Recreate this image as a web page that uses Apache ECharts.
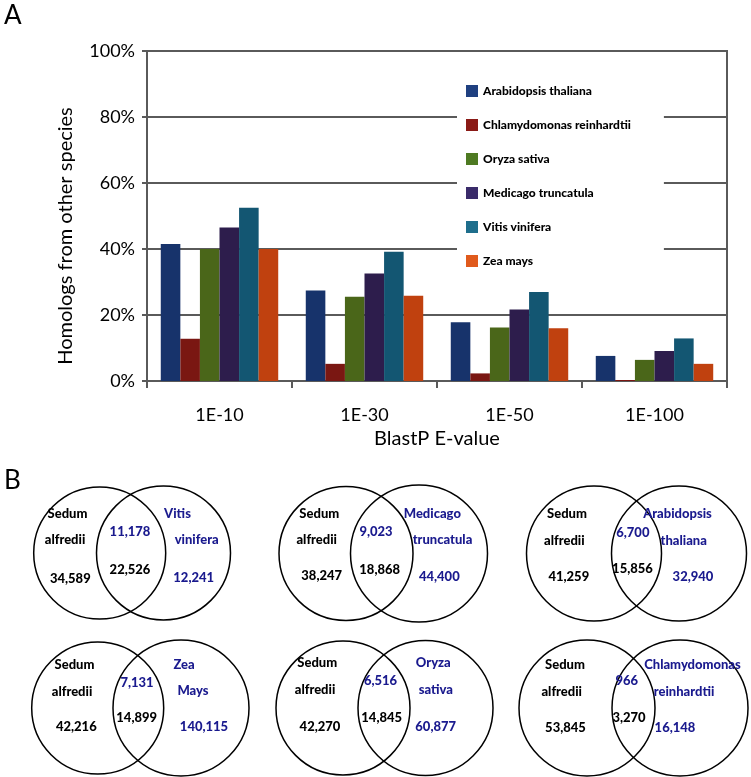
<!DOCTYPE html>
<html>
<head>
<meta charset="utf-8">
<script src="https://cdn.jsdelivr.net/npm/echarts@6/dist/echarts.min.js"></script>
<style>html,body{margin:0;padding:0;background:#fff;}#chart{width:751px;height:777px;}</style>
</head>
<body>
<div id="chart"></div>
<script>
// ---------- Panel A data ----------
var categories = ['1E-10', '1E-30', '1E-50', '1E-100'];
var yTickLabels = ['0%', '20%', '40%', '60%', '80%', '100%'];
var species = ['Arabidopsis thaliana', 'Chlamydomonas reinhardtii', 'Oryza sativa', 'Medicago truncatula', 'Vitis vinifera', 'Zea mays'];
var arabidopsis = [41.5, 27.4, 17.8, 7.6];
var chlamydomonas = [12.8, 5.2, 2.3, 0.3];
var oryza = [40.0, 25.5, 16.2, 6.4];
var medicago = [46.5, 32.6, 21.7, 9.1];
var vitis = [52.5, 39.2, 27.0, 12.9];
var zea = [40.0, 25.8, 16.0, 5.2];

// ---------- Panel B data ----------
var sedumName = ['Sedum', 'alfredii'];
var vennOther = [['Vitis', 'vinifera'], ['Medicago', 'truncatula'], ['Arabidopsis', 'thaliana'], ['Zea', 'Mays'], ['Oryza', 'sativa'], ['Chlamydomonas', 'reinhardtii']];
var sedumOnly = [34589, 38247, 41259, 42216, 42270, 53845];
var sharedOther = [11178, 9023, 6700, 7131, 6516, 966];
var sharedSedum = [22526, 18868, 15856, 14899, 14845, 3270];
var otherOnly = [12241, 44400, 32940, 140115, 60877, 16148];

// ---------- styling / layout (not data) ----------
var barColors = ['#17336b', '#7a1712', '#4a6619', '#2d1d4c', '#135672', '#c0410f'];
var legendColors = ['#1f4080', '#8a1a16', '#4e7a22', '#3a2b6a', '#1e6e8c', '#e05a1c'];
var seriesValues = [arabidopsis, chlamydomonas, oryza, medicago, vitis, zea];
var axisGray = '#5a5a5a';
var FONT = 'Lato';
var BLUE = '#1a1a8e';

// venn layout in page pixels: circle centres, radii, label anchors
var vennLayout = [
  {cL: 99.7, cR: 163.5, cy: 553, rL: 66, rR: 67,
   lab: [[67.5,514],[65,540],[70.3,579],[130,531.7],[130,570],[177.5,514],[196.7,540],[193.7,578]]},
  {cL: 346, cR: 419, cy: 553.5, rL: 67, rR: 68.5,
   lab: [[319.3,514.3],[316.7,540],[321.7,575.7],[376,532.3],[379.7,570],[432.3,514.3],[442.5,540],[439.3,576.7]]},
  {cL: 594, cR: 679, cy: 553.5, rL: 67.5, rR: 67.5,
   lab: [[567,514],[564.3,540.7],[568.8,577.3],[632.8,532.7],[632.5,569.3],[677.5,514],[683.7,540.7],[693,577.3]]},
  {cL: 97.7, cR: 181, cy: 708, rL: 66, rR: 68,
   lab: [[74.5,665],[72,691.7],[76.3,727.3],[137,683.3],[136.7,718.3],[184,665],[193,690.7],[204,727.3]]},
  {cL: 343, cR: 425.5, cy: 708, rL: 67, rR: 67.5,
   lab: [[317.2,663.3],[315,690],[320,727.3],[380.5,680.7],[381.7,718.3],[433.3,663.3],[435.8,690],[435.7,727.3]]},
  {cL: 587, cR: 680, cy: 708, rL: 68, rR: 68,
   lab: [[565,665],[561.7,691.7],[565.5,728.3],[626.7,680.7],[629,718.3],[692.5,665],[684,691.7],[675,728.3]]}
];

function fmt(n) { return n.toLocaleString('en-US'); }

var circleData = [];
var textData = [];
vennLayout.forEach(function (v, i) {
  circleData.push({value: [v.cL, v.cy], symbolSize: v.rL * 2});
  circleData.push({value: [v.cR, v.cy], symbolSize: v.rR * 2});
  var texts = [
    [sedumName[0], '#000'], [sedumName[1], '#000'], [fmt(sedumOnly[i]), '#000'],
    [fmt(sharedOther[i]), BLUE], [fmt(sharedSedum[i]), '#000'],
    [vennOther[i][0], BLUE], [vennOther[i][1], BLUE], [fmt(otherOnly[i]), BLUE]
  ];
  texts.forEach(function (t, k) {
    textData.push({
      value: v.lab[k], name: t[0],
      label: {show: true, position: 'inside', formatter: '{b}', fontFamily: FONT, fontSize: 13,
              fontWeight: 900, color: t[1], textBorderWidth: 0, opacity: 1}
    });
  });
});

var barSeries = species.map(function (name, i) {
  return {
    name: name, type: 'bar', xAxisIndex: 0, yAxisIndex: 0,
    data: seriesValues[i],
    barGap: '0%', barCategoryGap: '19%',
    itemStyle: {color: barColors[i]},
    emphasis: {disabled: true}
  };
});

var chart = echarts.init(document.getElementById('chart'), null, {renderer: 'canvas'});
chart.setOption({
  animation: false,
  backgroundColor: '#fff',
  textStyle: {fontFamily: FONT},
  title: [
    {text: 'A', left: 4, top: 3, padding: 0, textStyle: {fontSize: 26, fontWeight: 'normal', fontFamily: FONT, color: '#000'}},
    {text: 'B', left: 4, top: 468, padding: 0, textStyle: {fontSize: 26, fontWeight: 'normal', fontFamily: FONT, color: '#000'}}
  ],
  grid: [
    {left: 147, right: 24, top: 51, bottom: 396, show: true, borderColor: axisGray, borderWidth: 2, backgroundColor: 'transparent'},
    {left: 0, top: 0, width: 751, height: 777, show: false}
  ],
  legend: {
    orient: 'vertical', left: 457, top: 70,
    padding: [15, 33, 10, 9],
    backgroundColor: '#fff',
    itemWidth: 12, itemHeight: 12, itemGap: 22,
    icon: 'rect',
    textStyle: {fontFamily: FONT, fontSize: 12, fontWeight: 900, color: '#000', lineHeight: 12},
    data: species.map(function (s, i) { return {name: s, itemStyle: {color: legendColors[i]}}; }),
    selectedMode: false
  },
  xAxis: [
    {
      type: 'category', gridIndex: 0, data: categories,
      axisLine: {lineStyle: {color: axisGray, width: 2}},
      axisTick: {show: true, length: 7, lineStyle: {color: axisGray, width: 2}},
      axisLabel: {fontFamily: FONT, fontSize: 18, color: '#000', margin: 25},
      name: 'BlastP E-value', nameLocation: 'middle', nameGap: 48,
      nameTextStyle: {fontFamily: FONT, fontSize: 20, color: '#000'}
    },
    {type: 'value', gridIndex: 1, min: 0, max: 751, show: false}
  ],
  yAxis: [
    {
      type: 'value', gridIndex: 0, min: 0, max: 100, interval: 20,
      axisLine: {show: true, lineStyle: {color: axisGray, width: 2}},
      axisTick: {show: true, length: 5, lineStyle: {color: axisGray, width: 2}},
      splitLine: {show: true, lineStyle: {color: axisGray, width: 2}},
      axisLabel: {fontFamily: FONT, fontSize: 18, color: '#000', margin: 12,
        formatter: function (v) { return yTickLabels[Math.round(v / 20)]; }}
    },
    {type: 'value', gridIndex: 1, min: 0, max: 777, inverse: true, show: false}
  ],
  graphic: [
    {type: 'text', x: 66, y: 236, rotation: Math.PI / 2,
     style: {text: 'Homologs from other species', fontFamily: FONT, fontSize: 20, fill: '#000', align: 'center', verticalAlign: 'middle'}}
  ],
  series: barSeries.concat([
    {
      type: 'scatter', xAxisIndex: 1, yAxisIndex: 1, data: circleData,
      symbol: 'circle', silent: true, clip: false,
      itemStyle: {color: 'rgba(0,0,0,0)', borderColor: '#000', borderWidth: 1.5, opacity: 1},
      emphasis: {disabled: true}
    },
    {
      type: 'scatter', xAxisIndex: 1, yAxisIndex: 1, data: textData,
      symbolSize: 1, silent: true, clip: false,
      itemStyle: {color: 'rgba(0,0,0,0)', opacity: 1},
      label: {show: true, position: 'inside', formatter: '{b}', fontFamily: FONT, fontSize: 13, fontWeight: 900},
      emphasis: {disabled: true}
    }
  ])
});
</script>
</body>
</html>
